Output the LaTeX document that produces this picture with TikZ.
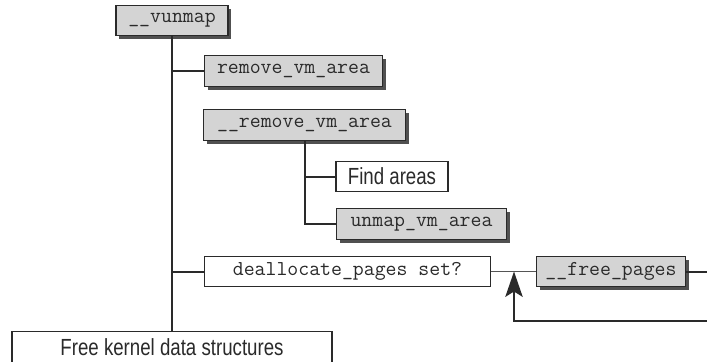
\documentclass[tikz,border=0pt]{standalone}
\usepackage{fontspec}
\newfontfamily\narrowsans[FakeStretch=0.8]{Liberation Sans}
\usetikzlibrary{arrows.meta, positioning, shadows}

\definecolor{boxgray}{HTML}{D4D4D4}
\definecolor{shadowgray}{HTML}{505050}
\definecolor{inkgray}{HTML}{2A2A2A}

\begin{document}
\begin{tikzpicture}[x=0.75pt, y=-0.75pt,
  fnbox/.style={draw=inkgray, line width=0.9pt, fill=boxgray,
                minimum height=23pt, inner sep=0pt, text=inkgray,
                font=\ttfamily\fontsize{15.9}{16}\selectfont,
                drop shadow={shadow xshift=2.5pt, shadow yshift=-2.5pt,
                             fill=shadowgray, opacity=1}},
  stepbox/.style={draw=inkgray, line width=0.9pt, fill=white,
                  minimum height=23pt, inner sep=0pt, text=inkgray,
                  font=\narrowsans\fontsize{17.5}{18}\selectfont},
  testbox/.style={stepbox, font=\ttfamily\fontsize{15.9}{16}\selectfont},
  trunk/.style={line width=1.5pt, inkgray},
  every node/.style={anchor=center}
]
  \useasboundingbox (0,0) rectangle (707,361);

  % call tree
  \node[fnbox, minimum width=84pt] (vunmap) at (172,20.5) {\_\_vunmap};
  \node[fnbox, minimum width=133pt] (rva) at (293.5,71) {remove\_vm\_area};
  \node[fnbox, minimum width=151pt] (rvai) at (304.5,125) {\_\_remove\_vm\_area};
  \node[stepbox, minimum width=84pt] (find) at (392,176.5) {Find areas};
  \node[fnbox, minimum width=127pt] (unmap) at (421.5,224) {unmap\_vm\_area};
  \node[testbox, minimum width=214pt] (dealloc) at (347.5,271.5) {deallocate\_pages set?};
  \node[fnbox, minimum width=112pt] (freep) at (611,271.5) {\_\_free\_pages};
  \node[stepbox, minimum width=240pt] (freek) at (172,347) {Free kernel data structures};

  \coordinate (junc) at (514,271.5);
  \coordinate (outr) at (707,271.5);
  \coordinate (back) at (707,321);

  % trunks and branches
  \draw[trunk] (vunmap.south) -- (freek.north);
  \draw[trunk] (vunmap.south |- rva.west) -- (rva.west);
  \draw[trunk] (vunmap.south |- dealloc.west) -- (dealloc.west);
  \draw[trunk] (rvai.south) -- (rvai.south |- unmap.west) -- (unmap.west);
  \draw[trunk] (rvai.south |- find.west) -- (find.west);

  % loop over the pages
  \draw[line width=0.8pt, inkgray!80] (dealloc.east) -- (freep.west);
  \draw[trunk] (freep.east) -- (outr);
  \draw[trunk, -{Stealth[length=19pt, width=13pt, inset=4pt]}]
    (back) -- (junc |- back) -- (junc);
\end{tikzpicture}
\end{document}
